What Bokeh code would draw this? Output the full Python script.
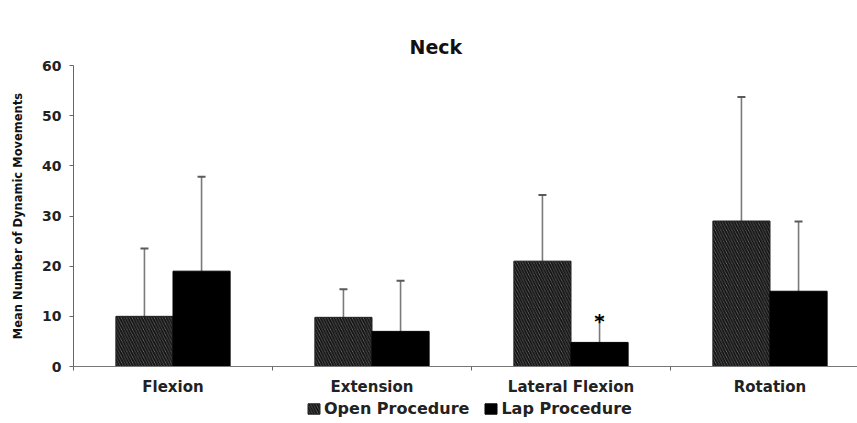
from bokeh.plotting import figure
from bokeh.layouts import column
from bokeh.models import (Range1d, FixedTicker, ColumnDataSource, Whisker, TeeHead,
                          Legend, LegendItem, Title)
from bokeh.core.properties import value
from bokeh.embed import file_html
from bokeh.resources import INLINE

# ---- data ----
categories = ["Flexion", "Extension", "Lateral Flexion", "Rotation"]
open_mean = [10.0, 9.8, 21.0, 29.0]
open_sd = [13.5, 5.6, 13.2, 24.7]
lap_mean = [19.0, 7.0, 4.8, 15.0]
lap_sd = [18.8, 10.1, 4.9, 13.9]
y_ticks = [0, 10, 20, 30, 40, 50, 60]
series_labels = ["Open Procedure", "Lap Procedure"]
star_category = "Lateral Flexion"

FONT = "DejaVu Sans"
W = 857
LEFT = 73
FW = W - LEFT
BAR_W = 0.287
centers = [i + 0.5 for i in range(len(categories))]
open_x = [c - BAR_W / 2 for c in centers]
lap_x = [c + BAR_W / 2 for c in centers]

OPEN_STYLE = dict(fill_color="#7a7a7a", line_color="#222222", line_width=1,
                  hatch_pattern="\\", hatch_color="#151515", hatch_scale=5.5,
                  hatch_weight=2)
LAP_STYLE = dict(fill_color="black", line_color="black", line_width=1)

p = figure(width=W, height=398, output_backend="svg", toolbar_location=None,
           x_range=Range1d(0, FW / 199.0), y_range=Range1d(0, 60),
           min_border_left=LEFT, min_border_right=0, min_border_top=65,
           min_border_bottom=31, title="x")
p.outline_line_color = None
p.grid.grid_line_color = None
p.background_fill_color = "white"

# the built-in title (next to the plot area) is an invisible spacer
p.title.text_font_size = "10px"
p.title.text_alpha = 0
p.title.standoff = 11
# the visible title sits above it
p.add_layout(Title(text="Neck", align="left", offset=336, standoff=16,
                   text_font=FONT, text_font_size="19px", text_font_style="bold",
                   text_color="#111111"), "above")

src_open = ColumnDataSource(dict(x=open_x, top=open_mean,
                                 upper=[m + s for m, s in zip(open_mean, open_sd)]))
src_lap = ColumnDataSource(dict(x=lap_x, top=lap_mean,
                                upper=[m + s for m, s in zip(lap_mean, lap_sd)]))

for src in (src_open, src_lap):
    w = Whisker(source=src, base="x", lower="top", upper="upper",
                line_color="#7a7a7a", line_width=1.6,
                upper_head=TeeHead(size=8, line_color="#5a5a5a", line_width=2),
                lower_head=None)
    p.add_layout(w)

p.vbar(x="x", top="top", bottom=0, width=BAR_W, source=src_open, **OPEN_STYLE)
p.vbar(x="x", top="top", bottom=0, width=BAR_W, source=src_lap, **LAP_STYLE)

si = categories.index(star_category)
p.text(x=[lap_x[si]], y=[lap_mean[si] + lap_sd[si]], text=["*"],
       text_font=value(FONT), text_font_size="20px", text_font_style="bold",
       text_align="center", text_baseline="middle", y_offset=3, text_color="black")

# y axis
ya = p.yaxis[0]
ya.ticker = FixedTicker(ticks=y_ticks)
ya.major_tick_out = 4
ya.major_tick_in = 0
ya.minor_tick_out = 0
ya.minor_tick_in = 0
ya.major_label_standoff = 8
ya.axis_line_color = "#666666"
ya.major_tick_line_color = "#666666"
ya.major_label_text_font = FONT
ya.major_label_text_font_style = "bold"
ya.major_label_text_font_size = "14px"
ya.major_label_text_color = "#222222"
ya.axis_label = "Mean Number of Dynamic Movements"
ya.axis_label_text_font = FONT
ya.axis_label_text_font_style = "bold"
ya.axis_label_text_font_size = "11.5px"
ya.axis_label_text_color = "#111111"
ya.axis_label_standoff = 14

# x axis
xa = p.xaxis[0]
xa.ticker = FixedTicker(ticks=centers, minor_ticks=[0, 1, 2, 3])
xa.major_label_overrides = {c: lab for c, lab in zip(centers, categories)}
xa.major_tick_out = 0
xa.major_tick_in = 0
xa.minor_tick_out = 4
xa.minor_tick_in = 0
xa.major_label_standoff = 7
xa.axis_line_color = "#777777"
xa.minor_tick_line_color = "#666666"
xa.major_label_text_font = FONT
xa.major_label_text_font_style = "bold"
xa.major_label_text_font_size = "15px"
xa.major_label_text_color = "#222222"

# legend strip below the chart (its bars lie outside the strip's visible range)
pl = figure(width=W, height=25, output_backend="svg", toolbar_location=None,
            x_range=Range1d(100, 101), y_range=Range1d(100, 101),
            x_axis_type=None, y_axis_type=None,
            min_border_left=0, min_border_right=0, min_border_top=0,
            min_border_bottom=0)
pl.outline_line_color = None
lr_open = pl.vbar(x="x", top="top", bottom=0, width=BAR_W,
                  source=ColumnDataSource(dict(x=open_x[:1], top=open_mean[:1])),
                  **OPEN_STYLE)
lr_lap = pl.vbar(x="x", top="top", bottom=0, width=BAR_W,
                 source=ColumnDataSource(dict(x=lap_x[:1], top=lap_mean[:1])),
                 **LAP_STYLE)
legend = Legend(items=[LegendItem(label=series_labels[0], renderers=[lr_open], index=0),
                       LegendItem(label=series_labels[1], renderers=[lr_lap], index=0)],
                orientation="horizontal", location=(233, 5),
                glyph_width=15, glyph_height=13, label_height=13,
                label_standoff=3, spacing=14, padding=0, margin=0,
                border_line_color=None, background_fill_alpha=0,
                label_text_font=FONT, label_text_font_style="bold",
                label_text_font_size="16px", label_text_color="#222222")
pl.add_layout(legend)

layout = column(p, pl, spacing=0)
open("out.html", "w").write(file_html(layout, INLINE))
